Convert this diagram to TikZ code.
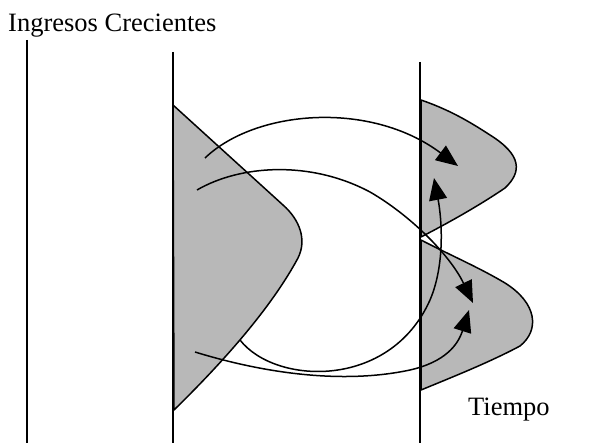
\documentclass[tikz,border=0pt]{standalone}
\usepackage{fontspec}
\setmainfont{Liberation Serif}
\usetikzlibrary{arrows.meta}
\definecolor{DotShade}{HTML}{B8B8B8}

\begin{document}
\begin{tikzpicture}[
  x=1pt, y=-1pt,
  % axis line of a period
  axis/.style={line width=1.6pt},
  % shaded income distribution
  dist/.style={fill=DotShade, draw=black, line width=1.5pt, line join=round},
  % transition arrow
  flow/.style={-{Triangle[length=22pt 0,width=18pt 0]}, line width=1.5pt},
  % caption text
  lbl/.style={font=\fontsize{26.5}{30}\selectfont, inner sep=0pt, anchor=base west},
]
\useasboundingbox (0,0) rectangle (594,443);

%% ── Period lines ──────────────────────────────────────────────────────────
\draw[axis] (27,40)  -- (27,443);
\draw[axis] (173,52) -- (173,443);
\draw[axis] (420,62) -- (420,443);

%% ── Distributions ─────────────────────────────────────────────────────────
\draw[dist] (173,105) -- (283,205)
  .. controls (300,220) and (307,240) .. (298,258)
  .. controls (270,310) and (220,365) .. (174,410) -- cycle;
\draw[dist] (421,100) .. controls (450,110) and (470,122) .. (490,135)
  .. controls (522,155) and (522,172) .. (505,188)
  .. controls (480,205) and (450,222) .. (421,237) -- cycle;
\draw[dist] (421,240) .. controls (450,255) and (480,268) .. (505,283)
  .. controls (537,303) and (540,330) .. (520,346)
  .. controls (490,362) and (455,376) .. (421,390) -- cycle;

%% ── Arrow end points ──────────────────────────────────────────────────────
\coordinate (s1) at (205,158);  \coordinate (e1) at (458,166);
\coordinate (s2) at (197,190);  \coordinate (m2) at (370,192);
\coordinate (e2) at (473,303);
\coordinate (s3) at (240,340);  \coordinate (m3) at (430,300);
\coordinate (e3) at (434,178);
\coordinate (s4) at (195,352);  \coordinate (m4) at (410,370);
\coordinate (e4) at (469,310);

%% ── Transitions ───────────────────────────────────────────────────────────
\draw[flow] (s1) .. controls (255,110) and (370,100) .. (e1);
\draw[flow] (s2) .. controls (240,165) and (310,160) .. (m2)
                 .. controls (410,215) and (450,255) .. (e2);
\draw[flow] (s3) .. controls (275,385) and (390,390) .. (m3)
                 .. controls (445,265) and (442,220) .. (e3);
\draw[flow] (s4) .. controls (260,372) and (340,385) .. (m4)
                 .. controls (445,362) and (458,345) .. (e4);

%% ── Labels ────────────────────────────────────────────────────────────────
\node[lbl] (ingresos) at (8,32)   {Ingresos Crecientes};
\node[lbl] (tiempo)   at (468,415) {Tiempo};

\end{tikzpicture}
\end{document}
